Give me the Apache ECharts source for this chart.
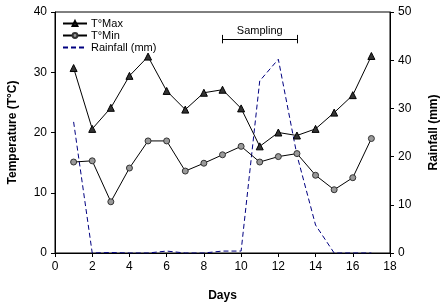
<!DOCTYPE html>
<html><head><meta charset="utf-8">
<script src="https://cdn.jsdelivr.net/npm/echarts@6/dist/echarts.min.js"></script>
<style>html,body{margin:0;padding:0;background:#fff}#c{width:442px;height:306px}</style>
</head><body><div id="c"></div>
<script>
var days = [1,2,3,4,5,6,7,8,9,10,11,12,13,14,15,16,17];
var tMax = [30.7,20.6,24.1,29.4,32.6,26.9,23.8,26.6,27.1,24.0,17.7,20.0,19.5,20.6,23.3,26.2,32.7];
var tMin = [15.1,15.3,8.5,14.1,18.6,18.6,13.6,14.9,16.3,17.7,15.1,16.0,16.5,12.9,10.5,12.5,19.0];
var rain = [27.2,0,0.1,0,0,0.4,0,0,0.4,0.4,35.7,40.2,20.3,5.8,0,0,0];
var samplingDays = [9,13];
var samplingLevel = 35.5;
var samplingLabel = 'Sampling';

function pairs(xs, ys){ return xs.map(function(x,i){ return [x, ys[i]]; }); }
var F = 'Liberation Sans, Arial, sans-serif';
var chart = echarts.init(document.getElementById('c'), null, {renderer:'canvas'});
chart.setOption({
  animation:false,
  backgroundColor:'#fff',
  textStyle:{fontFamily:F},
  grid:{left:55,right:52,top:12,bottom:53,show:true,borderColor:'#000',borderWidth:1,containLabel:false,outerBoundsMode:'none'},
  legend:{
    left:57, top:13, orient:'vertical', itemWidth:24, itemHeight:6, itemGap:1,
    textStyle:{fontFamily:F,fontSize:11,color:'#000',padding:[0,0,0,-1]},
    data:['T°Max','T°Min',{name:'Rainfall (mm)',itemStyle:{opacity:0}}]
  },
  xAxis:{
    type:'value', min:0, max:18, interval:2,
    name:'Days', nameLocation:'middle', nameGap:37,
    nameTextStyle:{fontFamily:F,fontSize:12,fontWeight:'bold',color:'#000'},
    axisLine:{lineStyle:{color:'#000',width:1}},
    axisTick:{length:4,lineStyle:{color:'#000'}},
    axisLabel:{fontFamily:F,fontSize:12,color:'#000',margin:8},
    splitLine:{show:false}
  },
  yAxis:[{
    type:'value', min:0, max:40, interval:10,
    name:'Temperature (T°C)', nameLocation:'middle', nameGap:36,
    nameTextStyle:{fontFamily:F,fontSize:12,fontWeight:'bold',color:'#000'},
    axisLine:{show:true,lineStyle:{color:'#000'}},
    axisTick:{show:true,length:4,lineStyle:{color:'#000'}},
    axisLabel:{fontFamily:F,fontSize:12,color:'#000',margin:8},
    splitLine:{show:false}
  },{
    type:'value', min:0, max:50, interval:10, position:'right',
    name:'Rainfall (mm)', nameLocation:'middle', nameGap:38,
    nameTextStyle:{fontFamily:F,fontSize:12,fontWeight:'bold',color:'#000'},
    axisLine:{show:true,lineStyle:{color:'#000'}},
    axisTick:{show:true,length:4,lineStyle:{color:'#000'}},
    axisLabel:{fontFamily:F,fontSize:12,color:'#000',margin:8},
    splitLine:{show:false}
  }],
  series:[{
    name:'T°Max', type:'line', data:pairs(days,tMax),
    symbol:'triangle', symbolSize:7,
    itemStyle:{color:'#333',borderColor:'#000',borderWidth:1},
    lineStyle:{color:'#000',width:1}, z:3
  },{
    name:'T°Min', type:'line', data:pairs(days,tMin),
    symbol:'circle', symbolSize:6,
    itemStyle:{color:'#999',borderColor:'#333',borderWidth:1},
    lineStyle:{color:'#000',width:1}, z:3
  },{
    name:'Rainfall (mm)', type:'line', yAxisIndex:1, data:pairs(days,rain),
    symbol:'none', itemStyle:{color:'#000080'},
    lineStyle:{color:'#000080',width:1,type:[5,3]}, z:2
  },{
    name:'sampling', type:'line', data:[], silent:true,
    markLine:{
      symbol:'none', silent:true,
      lineStyle:{color:'#000',width:1,type:'solid'},
      label:{show:false},
      data:[
        [{coord:[samplingDays[0],samplingLevel],label:{show:true,position:'middle',formatter:samplingLabel,color:'#000',fontFamily:F,fontSize:11,distance:3}},{coord:[samplingDays[1],samplingLevel]}],
        [{coord:[samplingDays[0],samplingLevel-0.7]},{coord:[samplingDays[0],samplingLevel+0.7]}],
        [{coord:[samplingDays[1],samplingLevel-0.7]},{coord:[samplingDays[1],samplingLevel+0.7]}]
      ]
    }
  }]
});
</script></body></html>
